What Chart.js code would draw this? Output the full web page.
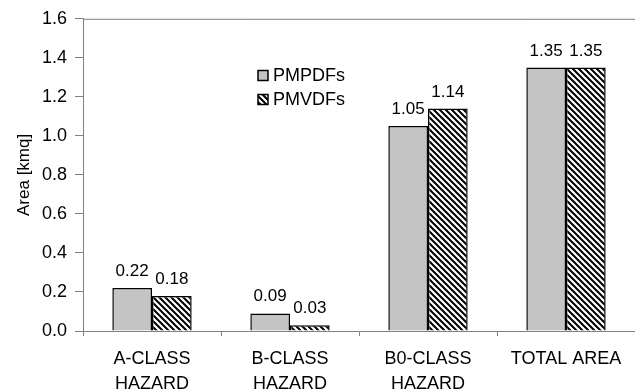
<!DOCTYPE html>
<html>
<head>
<meta charset="utf-8">
<script src="https://cdn.jsdelivr.net/npm/chart.js@4.4.0/dist/chart.umd.min.js"></script>
<style>
  html, body { margin: 0; padding: 0; background: #fff; }
  #wrap { width: 635px; height: 389px; }
</style>
</head>
<body>
<div id="wrap"><canvas id="myChart" width="635" height="389"></canvas></div>
<script>
const categorias = [['A-CLASS', 'HAZARD'], ['B-CLASS', 'HAZARD'], ['B0-CLASS', 'HAZARD'], 'TOTAL AREA'];
const pmpdfs = [0.22, 0.09, 1.05, 1.35];
const pmvdfs = [0.18, 0.03, 1.14, 1.35];
const ticksY = [0, 0.2, 0.4, 0.6, 0.8, 1.0, 1.2, 1.4, 1.6];

const fuente = 'Liberation Sans, Arial, sans-serif';

// patron rayado para PMVDFs
function rayado() {
  const n = 6;
  const c = document.createElement('canvas');
  c.width = n; c.height = n;
  const g = c.getContext('2d');
  g.fillStyle = '#fff';
  g.fillRect(0, 0, n, n);
  g.strokeStyle = '#000';
  g.lineWidth = 2;
  g.beginPath();
  g.moveTo(-1, -1); g.lineTo(n + 1, n + 1);
  g.moveTo(-1, n - 1); g.lineTo(1, n + 1);
  g.moveTo(n - 1, -1); g.lineTo(n + 1, 1);
  g.stroke();
  return g.createPattern(c, 'repeat');
}

// etiquetas de valores, marco superior y leyenda
const extras = {
  id: 'extras',
  afterDatasetsDraw(chart) {
    const ctx = chart.ctx;
    const area = chart.chartArea;
    ctx.save();
    ctx.font = '17px ' + fuente;
    ctx.fillStyle = '#000';
    ctx.textAlign = 'center';
    ctx.textBaseline = 'alphabetic';
    chart.data.datasets.forEach((ds, i) => {
      chart.getDatasetMeta(i).data.forEach((bar, j) => {
        ctx.fillText(ds.data[j].toFixed(2), bar.x, bar.y - 12);
      });
    });

    ctx.strokeStyle = '#808080';
    ctx.lineWidth = 1;
    ctx.beginPath();
    ctx.moveTo(area.left, area.top + 0.5);
    ctx.lineTo(area.right, area.top + 0.5);
    ctx.stroke();

    // leyenda
    ctx.font = '18px ' + fuente;
    ctx.textAlign = 'left';
    ctx.textBaseline = 'middle';
    const lx = 258, ly = [75.5, 99.5];
    chart.data.datasets.forEach((ds, i) => {
      ctx.fillStyle = ds.backgroundColor;
      ctx.fillRect(lx, ly[i] - 5, 10, 10);
      ctx.strokeStyle = '#000';
      ctx.lineWidth = 1.5;
      ctx.strokeRect(lx, ly[i] - 5, 10, 10);
      ctx.fillStyle = '#000';
      ctx.fillText(ds.label, lx + 15, ly[i] + 1);
    });
    ctx.restore();
  }
};

const ctx = document.getElementById('myChart').getContext('2d');
new Chart(ctx, {
  type: 'bar',
  data: {
    labels: categorias,
    datasets: [
      {
        label: 'PMPDFs',
        data: pmpdfs,
        backgroundColor: '#c4c4c4',
        borderColor: '#000',
        borderWidth: 1.5,
        barPercentage: 1,
        categoryPercentage: 0.575
      },
      {
        label: 'PMVDFs',
        data: pmvdfs,
        backgroundColor: rayado(),
        borderColor: '#000',
        borderWidth: 1.5,
        barPercentage: 1,
        categoryPercentage: 0.575
      }
    ]
  },
  options: {
    responsive: false,
    animation: false,
    layout: { padding: { top: 18, right: 0, left: 0, bottom: 0 } },
    plugins: {
      legend: { display: false },
      tooltip: { enabled: false }
    },
    scales: {
      x: {
        grid: { display: true, offset: true, drawOnChartArea: false, tickLength: 5, color: '#808080' },
        border: { color: '#808080' },
        ticks: { color: '#000', font: { size: 18, family: fuente, lineHeight: 1.4 }, maxRotation: 0, padding: 10 },
        afterFit(s) { s.height = 58; }
      },
      y: {
        min: 0,
        max: 1.6,
        afterBuildTicks(s) { s.ticks = ticksY.map(v => ({ value: v })); },
        grid: { display: true, drawOnChartArea: false, tickLength: 8, color: '#808080' },
        border: { color: '#808080' },
        ticks: { color: '#000', font: { size: 18, family: fuente }, padding: 8, callback: v => v.toFixed(1) },
        title: { display: true, text: 'Area [kmq]', color: '#000', font: { size: 17, family: fuente }, padding: { top: 14, bottom: 0 } },
        afterFit(s) { s.width = 83; }
      }
    }
  },
  plugins: [extras]
});
</script>
</body>
</html>
